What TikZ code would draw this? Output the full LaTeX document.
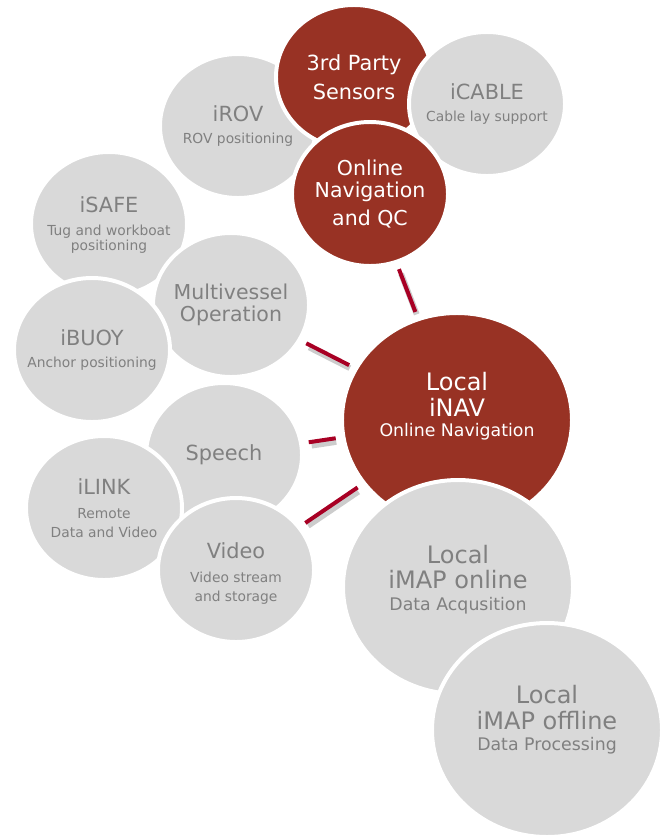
\documentclass[tikz,border=0pt]{standalone}
\usepackage{fontspec}
\setmainfont{DejaVu Sans}
\usepackage{tikz}
\usetikzlibrary{%
  shapes,%
  positioning,%
  calc%
}
\definecolor{navred}{RGB}{152,50,36}
\definecolor{discgrey}{RGB}{217,217,217}
\definecolor{txtgrey}{RGB}{128,128,128}
\definecolor{linkred}{RGB}{168,0,36}
\newcommand{\ttl}{\fontsize{17.8}{19}\selectfont}
\newcommand{\subt}{\fontsize{11.8}{12}\selectfont}
\newcommand{\bigttl}{\fontsize{20.5}{22}\selectfont}
\newcommand{\bigsubt}{\fontsize{14.8}{16}\selectfont}

\begin{document}
\begin{tikzpicture}[
    x=0.03cm, y=-0.03cm,
    disc/.style={ellipse, draw=white, line width=3.4pt, inner sep=0pt,
      minimum width=4.68cm, minimum height=4.32cm},
    big disc/.style={disc, minimum width=6.9cm, minimum height=6.42cm},
    grey disc/.style={disc, fill=discgrey},
    hot disc/.style={disc, fill=navred},
    grey text/.style={text=txtgrey, align=center, inner sep=0pt,
      font=\fontsize{11.8}{11.5}\selectfont},
    hot text/.style={text=white, align=center, inner sep=0pt,
      font=\fontsize{11.8}{11.5}\selectfont},
    link/.style={linkred, line width=3.4pt, shorten >=5pt, shorten <=5pt},
    link shadow/.style={black!20, line width=5pt, shorten >=6pt, shorten <=6pt,
      transform canvas={xshift=1.5pt, yshift=-3pt}}
]
    \useasboundingbox (0,0) rectangle (667,836);
    \node[grey disc] (isafe) at (109,224) {};
    \node[grey text, font=\fontsize{11.8}{12.8}\selectfont] at ([yshift=-1pt]isafe) {\ttl iSAFE\\[7pt] \subt Tug and workboat\\ \subt positioning};
    \node[grey disc] (multi) at (231,305) {};
    \node[grey text, font=\fontsize{17.5}{18.7}\selectfont] at (multi) {Multivessel\\ Operation};
    \node[grey disc] (ibuoy) at (92,350) {};
    \node[grey text] at (ibuoy) {\ttl iBUOY\\[7.5pt] \subt Anchor positioning};
    \node[grey disc] (speech) at (224,455) {};
    \node[grey text] at (speech) {\ttl Speech};
    \node[grey disc] (ilink) at (104,508) {};
    \node[grey text, font=\fontsize{11.8}{16.4}\selectfont] at (ilink) {\ttl iLINK\\[4pt] \subt Remote\\ \subt Data and Video};
    \node[grey disc] (video) at (236,570) {};
    \node[grey text, font=\fontsize{11.8}{16.4}\selectfont] at ([yshift=-3pt]video) {\ttl Video\\[4pt] \subt Video stream\\ \subt and storage};
    \node[grey disc] (irov) at (238,126) {};
    \node[grey text] at (irov) {\ttl iROV\\[7.5pt] \subt ROV positioning};
    \node[hot disc] (third) at (354,77) {};
    \node[hot text, font=\fontsize{17.8}{24.6}\selectfont] at (third) {3rd Party\\ Sensors};
    \node[grey disc] (icable) at (487,104) {};
    \node[grey text] at (icable) {\ttl iCABLE\\[7.5pt] \subt Cable lay support};
    \node[hot disc] (qc) at (370,194) {};
    \node[hot text, font=\fontsize{17.5}{18.7}\selectfont] at (qc) {Online\\ Navigation\\[5pt] and QC};
    \node[hot disc, big disc] (inav) at (457,420) {};
    \node[hot text, font=\fontsize{14.8}{17}\selectfont] at ([yshift=12pt]inav) {\bigttl Local\\[5pt] \bigttl iNAV\\ \bigsubt Online Navigation};
    \node[grey disc, big disc] (imapon) at (458,587) {};
    \node[grey text, font=\fontsize{14.8}{18.7}\selectfont] at ([yshift=6pt]imapon) {\bigttl Local\\[2.5pt] \bigttl iMAP online\\ \bigsubt Data Acqusition};
    \node[grey disc, big disc] (imapoff) at (547,730) {};
    \node[grey text, font=\fontsize{14.8}{18}\selectfont] at ([yshift=9pt]imapoff) {\bigttl Local\\[4pt] \bigttl iMAP offline\\ \bigsubt Data Processing};
    \foreach \from in {qc, multi, speech, video}
        \draw[link shadow] (\from) -- (inav);
    \foreach \from in {qc, multi, speech, video}
        \draw[link] (\from) -- (inav);
\end{tikzpicture}
\end{document}
